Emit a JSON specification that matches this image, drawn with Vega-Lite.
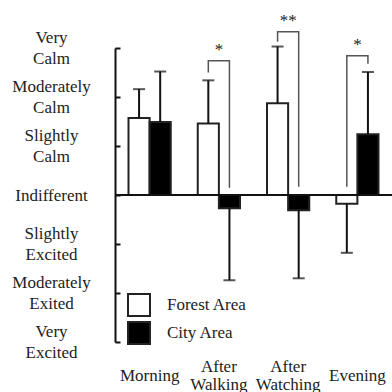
{
  "$schema": "https://vega.github.io/schema/vega-lite/v6.json",
  "width": 277,
  "height": 294,
  "autosize": {"type": "none"},
  "padding": {"left": 115, "top": 48, "right": 0, "bottom": 50},
  "background": "white",
  "config": {
    "view": {"stroke": null},
    "font": "Liberation Serif",
    "axis": {"labelFont": "Liberation Serif", "labelFontSize": 17, "labelColor": "#222", "grid": false, "title": null}
  },
  "datasets": {
    "bars": [
      {"cond": "Morning", "area": "Forest Area", "mean": 1.57, "err_end": 2.16},
      {"cond": "Morning", "area": "City Area", "mean": 1.49, "err_end": 2.52},
      {"cond": "After Walking", "area": "Forest Area", "mean": 1.46, "err_end": 2.34},
      {"cond": "After Walking", "area": "City Area", "mean": -0.27, "err_end": -1.74},
      {"cond": "After Watching", "area": "Forest Area", "mean": 1.87, "err_end": 3.03},
      {"cond": "After Watching", "area": "City Area", "mean": -0.31, "err_end": -1.70},
      {"cond": "Evening", "area": "Forest Area", "mean": -0.18, "err_end": -1.18},
      {"cond": "Evening", "area": "City Area", "mean": 1.24, "err_end": 2.51}
    ],
    "brackets": [
      {"id": "b1", "cond": "After Walking", "area": "Forest Area", "y": 2.5, "seq": 0},
      {"id": "b1", "cond": "After Walking", "area": "Forest Area", "y": 2.74, "seq": 1},
      {"id": "b1", "cond": "After Walking", "area": "City Area", "y": 2.74, "seq": 2},
      {"id": "b1", "cond": "After Walking", "area": "City Area", "y": 0.15, "seq": 3},
      {"id": "b2", "cond": "After Watching", "area": "Forest Area", "y": 3.13, "seq": 0},
      {"id": "b2", "cond": "After Watching", "area": "Forest Area", "y": 3.33, "seq": 1},
      {"id": "b2", "cond": "After Watching", "area": "City Area", "y": 3.33, "seq": 2},
      {"id": "b2", "cond": "After Watching", "area": "City Area", "y": 0.17, "seq": 3},
      {"id": "b3", "cond": "Evening", "area": "Forest Area", "y": 0.17, "seq": 0},
      {"id": "b3", "cond": "Evening", "area": "Forest Area", "y": 2.84, "seq": 1},
      {"id": "b3", "cond": "Evening", "area": "City Area", "y": 2.84, "seq": 2},
      {"id": "b3", "cond": "Evening", "area": "City Area", "y": 2.68, "seq": 3}
    ],
    "stars": [
      {"cond": "After Walking", "y": 2.74, "label": "*"},
      {"cond": "After Watching", "y": 3.33, "label": "**"},
      {"cond": "Evening", "y": 2.84, "label": "*"}
    ]
  },
  "layer": [
    {
      "encoding": {
        "x": {
          "field": "cond", "type": "nominal",
          "sort": ["Morning", "After Walking", "After Watching", "Evening"],
          "scale": {"paddingInner": 0.39, "paddingOuter": 0.195},
          "axis": {
            "orient": "bottom", "domain": false, "ticks": false, "labelAngle": 0,
            "labelPadding": 33, "labelLineHeight": 18,
            "labelBaseline": {"condition": {"test": "datum.value == 'After Walking' || datum.value == 'After Watching'", "value": "line-bottom"}, "value": "middle"},
            "labelExpr": "datum.value == 'After Walking' ? ['After', 'Walking'] : datum.value == 'After Watching' ? ['After', 'Watching'] : datum.value"
          }
        }
      },
      "layer": [
        {
          "data": {"name": "bars"},
          "mark": {"type": "bar", "stroke": "#222", "strokeWidth": 2},
          "encoding": {
            "xOffset": {"field": "area", "type": "nominal", "sort": ["Forest Area", "City Area"], "scale": {"paddingInner": 0, "paddingOuter": 0}},
            "y": {
              "field": "mean", "type": "quantitative",
              "scale": {"domain": [-3, 3], "nice": false, "zero": false},
              "axis": {
                "values": [-3, -2, -1, 0, 1, 2, 3],
                "domainColor": "#111", "domainWidth": 2, "tickColor": "#111", "tickWidth": 2, "tickSize": -5,
                "labelAlign": "center", "labelPadding": 69, "labelLineHeight": 21,
                "labelBaseline": {"condition": {"test": "datum.value == 0", "value": "middle"}, "value": "line-bottom"},
                "labelExpr": "datum.value == 3 ? ['Very', 'Calm'] : datum.value == 2 ? ['Moderately', 'Calm'] : datum.value == 1 ? ['Slightly', 'Calm'] : datum.value == 0 ? 'Indifferent' : datum.value == -1 ? ['Slightly', 'Excited'] : datum.value == -2 ? ['Moderately', 'Exited'] : ['Very', 'Excited']"
              }
            },
            "fill": {
              "field": "area", "type": "nominal",
              "scale": {"domain": ["Forest Area", "City Area"], "range": ["white", "black"]},
              "legend": {
                "title": null, "orient": "none", "legendX": 12, "legendY": 245,
                "symbolType": "square", "symbolSize": 484, "symbolStrokeColor": "#222", "symbolStrokeWidth": 2,
                "labelFont": "Liberation Serif", "labelFontSize": 17, "labelColor": "#222", "labelOffset": 16,
                "rowPadding": -2, "padding": 0
              }
            }
          }
        },
        {
          "data": {"name": "bars"},
          "mark": {"type": "rule", "color": "#111", "strokeWidth": 2},
          "encoding": {
            "xOffset": {"field": "area", "type": "nominal", "sort": ["Forest Area", "City Area"]},
            "y": {"field": "mean", "type": "quantitative"},
            "y2": {"field": "err_end"}
          }
        },
        {
          "data": {"name": "bars"},
          "mark": {"type": "tick", "color": "#111", "thickness": 2, "size": 12, "orient": "horizontal"},
          "encoding": {
            "xOffset": {"field": "area", "type": "nominal", "sort": ["Forest Area", "City Area"]},
            "y": {"field": "err_end", "type": "quantitative"}
          }
        },
        {
          "data": {"name": "brackets"},
          "mark": {"type": "line", "color": "#555", "strokeWidth": 1.5},
          "encoding": {
            "xOffset": {"field": "area", "type": "nominal", "sort": ["Forest Area", "City Area"]},
            "y": {"field": "y", "type": "quantitative"},
            "detail": {"field": "id"},
            "order": {"field": "seq"}
          }
        },
        {
          "data": {"name": "stars"},
          "mark": {"type": "text", "font": "Liberation Serif", "fontSize": 17, "color": "#222", "baseline": "alphabetic", "dy": -6},
          "encoding": {
            "y": {"field": "y", "type": "quantitative"},
            "text": {"field": "label"}
          }
        }
      ]
    },
    {
      "data": {"values": [{"z": 0}]},
      "mark": {"type": "rule", "color": "#111", "strokeWidth": 2},
      "encoding": {"y": {"field": "z", "type": "quantitative"}}
    }
  ]
}
